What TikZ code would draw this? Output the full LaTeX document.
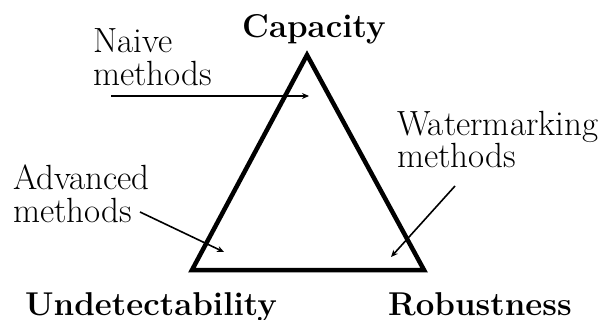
\documentclass[tikz,border=0pt]{standalone}
\usetikzlibrary{arrows.meta}
\begin{document}
\begin{tikzpicture}[x=1pt,y=-1pt,
  tri/.style={line width=4.5pt,line join=miter},
  pointer/.style={line width=1.6pt,-{Stealth[length=7pt,width=6pt]}},
  corner/.style={font=\fontsize{33}{36}\selectfont\bfseries,inner sep=0pt,anchor=base west},
  lbl/.style={font=\fontsize{35}{33}\selectfont,inner sep=0pt,align=left,anchor=base west}]
\useasboundingbox (0,0) rectangle (599,320);
\coordinate (A) at (307,55);
\coordinate (B) at (192,270);
\coordinate (C) at (424,270);
\draw[tri] (A) -- (B) -- (C) -- cycle;
\node[corner] (cap) at (242,38) {Capacity};
\node[corner] (und) at (25,315) {Undetectability};
\node[corner] (rob) at (388,315) {Robustness};
\node[lbl] (naive) at (93,86) {Naive\\methods};
\node[lbl] (adv) at (13,223) {Advanced\\methods};
\node[lbl,font=\fontsize{35}{28}\selectfont] (wat) at (397,168) {Watermarking\\methods};
\coordinate (n0) at (111,96);
\coordinate (n1) at (309,96);
\coordinate (a0) at (140,212);
\coordinate (a1) at (224,252);
\coordinate (w0) at (455,186);
\coordinate (w1) at (391,257);
\draw[pointer] (n0) -- (n1);
\draw[pointer] (a0) -- (a1);
\draw[pointer] (w0) -- (w1);
\end{tikzpicture}
\end{document}
